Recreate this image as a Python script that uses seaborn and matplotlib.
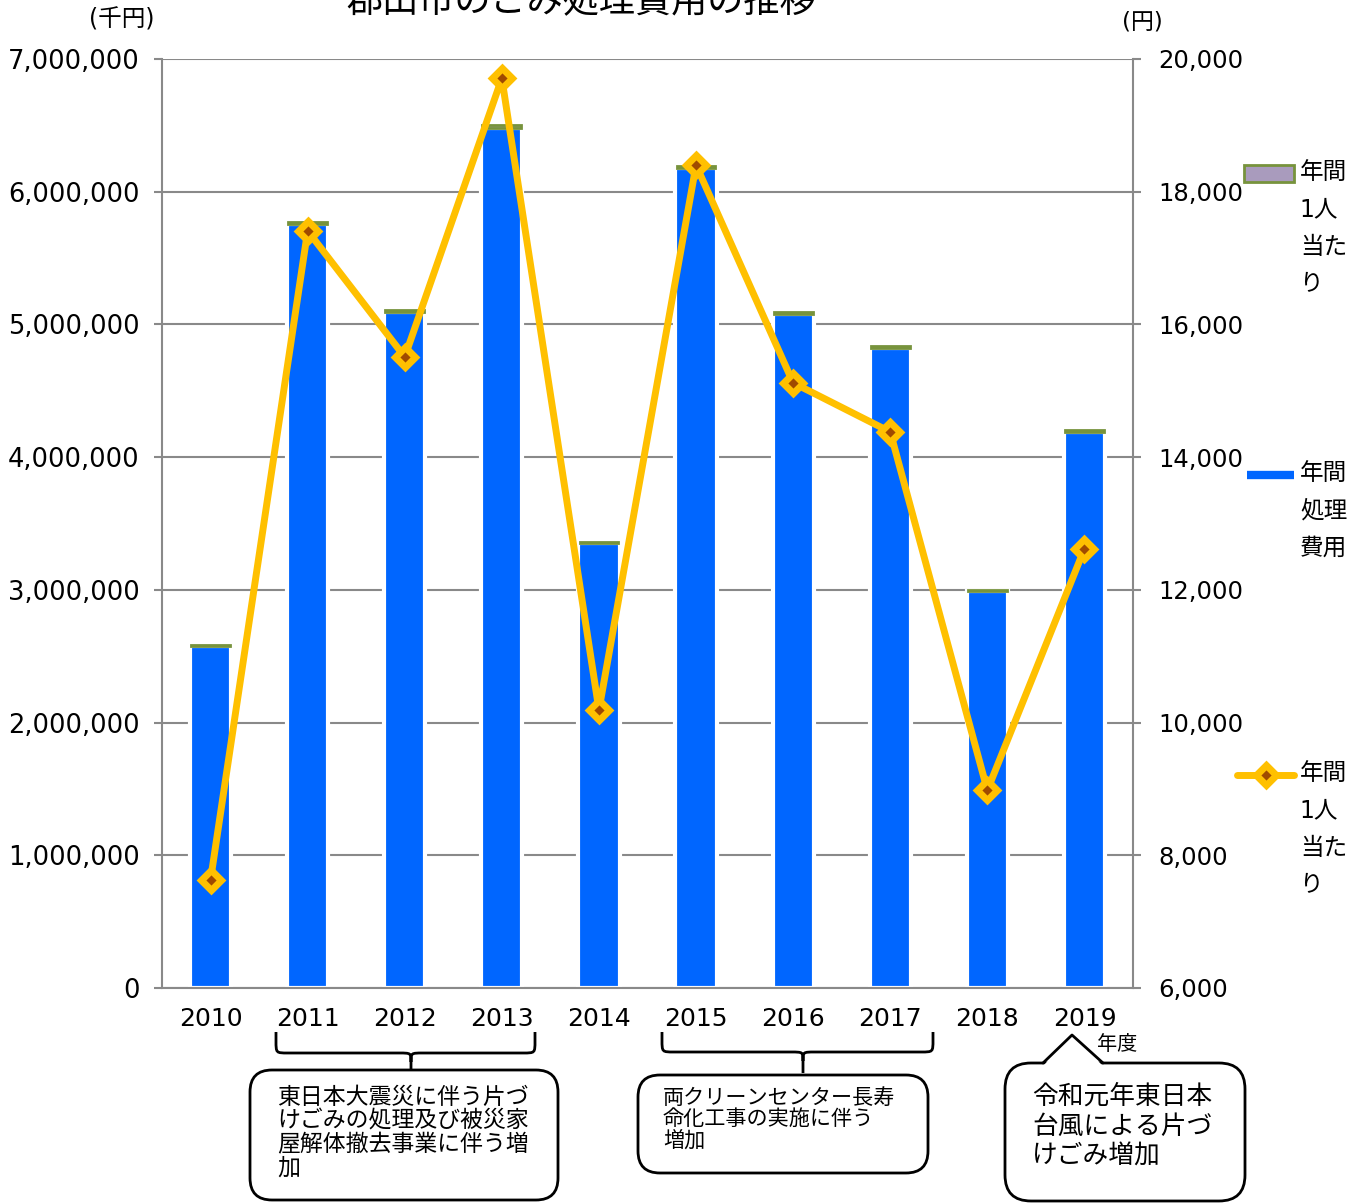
import numpy as np
import pandas as pd
import matplotlib
matplotlib.use("Agg")
import matplotlib.pyplot as plt
import seaborn as sns
from matplotlib.patches import FancyBboxPatch, PathPatch, Polygon, Patch
from matplotlib.path import Path
from matplotlib.lines import Line2D
from matplotlib.transforms import Affine2D
from matplotlib.legend_handler import HandlerLine2D, HandlerPatch
from matplotlib.ticker import FuncFormatter

# ---- data ----
years = ["2010", "2011", "2012", "2013", "2014", "2015", "2016", "2017", "2018", "2019"]
cost = [2577000, 5757000, 5094000, 6481000, 3353000, 6179000, 5079000, 4823000, 2992000, 4190000]
per_person = [7630, 17410, 15510, 19710, 10190, 18400, 15120, 14380, 8980, 12620]
left_ticks = [0, 1000000, 2000000, 3000000, 4000000, 5000000, 6000000, 7000000]
right_ticks = [6000, 8000, 10000, 12000, 14000, 16000, 18000, 20000]

title = "郡山市のごみ処理費用の推移"
left_unit = "(千円)"
right_unit = "(円)"
x_unit = "年度"
legend_labels = ["年間\n1人\n当た\nり", "年間\n処理\n費用", "年間\n1人\n当た\nり"]
note_2011 = "東日本大震災に伴う片づ\nけごみの処理及び被災家\n屋解体撤去事業に伴う増\n加"
note_2015 = "両クリーンセンター長寿\n命化工事の実施に伴う\n増加"
note_2019 = "令和元年東日本\n台風による片づ\nけごみ増加"

BLUE = "#0066FF"
YELLOW = "#FFC000"
BROWN = "#A04A00"
PURPLE = "#A99BBD"
GREEN = "#77933C"
GRID = "#898989"

sns.set_style("white")
plt.rcParams["font.family"] = ["DejaVu Sans", "Noto Sans CJK JP"]
plt.rcParams["text.color"] = "black"
plt.rcParams["xtick.labelcolor"] = "black"
plt.rcParams["ytick.labelcolor"] = "black"

W, H = 1368, 1203
fig = plt.figure(figsize=(W / 100, H / 100), dpi=100)
# pixel coordinates measured from the top-left corner
px = Affine2D().scale(1 / W, -1 / H).translate(0, 1) + fig.transFigure

ax = fig.add_axes([162 / W, 1 - 988 / H, (1133 - 162) / W, (988 - 59) / H])

df = pd.DataFrame({"year": years, "cost": cost, "per_person": per_person})
pos = np.arange(len(years))

sns.barplot(data=df, x="year", y="cost", color=BLUE, saturation=1, width=0.425,
            edgecolor="white", linewidth=3, ax=ax, zorder=2)
ax.bar(pos, df["per_person"], bottom=df["cost"], width=0.4, color=PURPLE,
       edgecolor=GREEN, linewidth=2, zorder=3)

ax.set_xlim(-0.5, len(years) - 0.5)
ax.set_ylim(0, 7000000)
ax.set_yticks(left_ticks)
ax.yaxis.set_major_formatter(FuncFormatter(lambda v, p: f"{int(v):,}"))
ax.set_xticks(pos)
ax.set_xticklabels(years)
ax.set_xticks(np.arange(-0.5, len(years)), minor=True)
ax.set_xlabel("")
ax.set_ylabel("")
ax.set_axisbelow(True)
ax.yaxis.grid(True, color=GRID, lw=1.5)
ax.tick_params(axis="x", which="major", length=0, pad=14, labelsize=18, labelcolor="black")
ax.tick_params(axis="x", which="minor", length=6, width=1.5, color=GRID, direction="out")
ax.tick_params(axis="y", length=6, width=1.5, color=GRID, direction="out", pad=10,
               labelsize=18.5, labelcolor="black")
for s in ["top", "right"]:
    ax.spines[s].set_visible(False)
for s in ["left", "bottom"]:
    ax.spines[s].set_color(GRID)
    ax.spines[s].set_linewidth(1.5)

ax2 = ax.twinx()
sns.lineplot(x=pos, y=df["per_person"], ax=ax2, color=YELLOW, lw=5, marker="D",
             markersize=10, markerfacecolor=BROWN, markeredgecolor=YELLOW,
             markeredgewidth=5, legend=False, zorder=4)
ax2.set_ylim(6000, 20000)
ax2.set_yticks(right_ticks)
ax2.yaxis.set_major_formatter(FuncFormatter(lambda v, p: f"{int(v):,}"))
ax2.set_ylabel("")
ax2.tick_params(axis="y", length=6, width=1.5, color=GRID, direction="out", pad=12,
                labelsize=17.5, labelcolor="black")
for s in ["top", "left", "bottom"]:
    ax2.spines[s].set_visible(False)
ax2.spines["right"].set_color(GRID)
ax2.spines["right"].set_linewidth(1.5)

# ---- texts around the axes ----
fig.text(581, 2, title, transform=px, ha="center", va="center", fontsize=26)
fig.text(122, 20, left_unit, transform=px, ha="center", va="center", fontsize=17)
fig.text(1142, 22, right_unit, transform=px, ha="center", va="center", fontsize=16.5)
fig.text(1117, 1045, x_unit, transform=px, ha="center", va="center", fontsize=14.5)


# ---- legends (handle aligned with first label line) ----
def raised(handler_cls, dy):
    class Raised(handler_cls):
        def create_artists(self, legend, orig_handle, xdescent, ydescent, width,
                           height, fontsize, trans):
            return super().create_artists(legend, orig_handle, xdescent, ydescent, width,
                                          height, fontsize, Affine2D().translate(0, dy) + trans)
    return Raised()


pitch_px = 37
handles = [
    Patch(facecolor=PURPLE, edgecolor=GREEN, lw=2),
    Line2D([], [], color=BLUE, lw=6, solid_capstyle="butt"),
    Line2D([], [], color=YELLOW, lw=5, marker="D", ms=10, mfc=BROWN, mec=YELLOW, mew=5),
]
handler_types = [HandlerPatch, HandlerLine2D, HandlerLine2D]
tops = [172, 473, 773]
hlens = [2.1, 2.0, 2.4]
for h, lab, ht, top, hl in zip(handles, legend_labels, handler_types, tops, hlens):
    nlines = lab.count("\n") + 1
    dy = (nlines - 1) / 2 * pitch_px * 0.72
    leg = fig.legend(handles=[h], labels=[lab], loc="upper left",
                     bbox_to_anchor=(1300 - hl * 23.6 - 6, top - 12), bbox_transform=px,
                     frameon=False, fontsize=17, handlelength=hl, handletextpad=0.25,
                     borderpad=0, borderaxespad=0,
                     handler_map={type(h): raised(ht, dy)})
    for t in leg.get_texts():
        t.set_linespacing(1.7)
        t.set_color("black")


# ---- braces and note boxes ----
def brace(x0, x1, xm, yt, ym, yb, r=12):
    M, L, C = Path.MOVETO, Path.LINETO, Path.CURVE4
    verts = [(x0, yt), (x0, ym - r), (x0, ym), (x0, ym), (x0 + r, ym),
             (xm - r, ym), (xm, ym), (xm, ym), (xm, ym + 9), (xm, yb),
             (xm, ym + 9), (xm, ym), (xm, ym), (xm + r, ym),
             (x1 - r, ym), (x1, ym), (x1, ym), (x1, ym - r), (x1, yt)]
    codes = [M, L, C, C, C, L, C, C, C, L, M, C, C, C, L, C, C, C, L]
    return PathPatch(Path(verts, codes), transform=px, fill=False, ec="black", lw=2)


fig.add_artist(brace(276, 535, 411, 1032, 1053, 1075))
fig.add_artist(brace(662, 933, 803, 1032, 1052, 1073))


def note_box(x0, y0, x1, y1, r=22):
    return FancyBboxPatch((x0, y0), x1 - x0, y1 - y0, boxstyle=f"round,pad=0,rounding_size={r}",
                          transform=px, fc="white", ec="black", lw=2)


fig.add_artist(note_box(250, 1070, 558, 1200))
fig.add_artist(note_box(638, 1075, 928, 1173))
fig.add_artist(note_box(1005, 1063, 1245, 1201, r=26))
fig.add_artist(Polygon([(1043, 1066), (1072, 1035), (1103, 1066)], closed=True,
                       transform=px, fc="white", ec="none"))
fig.add_artist(Line2D([1043, 1072, 1103], [1063, 1035, 1063], transform=px,
                      color="black", lw=2))

fig.text(277, 1086, note_2011, transform=px, ha="left", va="top", fontsize=16.5, linespacing=1.03)
fig.text(663, 1088, note_2015, transform=px, ha="left", va="top", fontsize=15.2, linespacing=1.07)
fig.text(1032, 1084, note_2019, transform=px, ha="left", va="top", fontsize=18.5, linespacing=1.18)

fig.savefig("out.png", dpi=100)
